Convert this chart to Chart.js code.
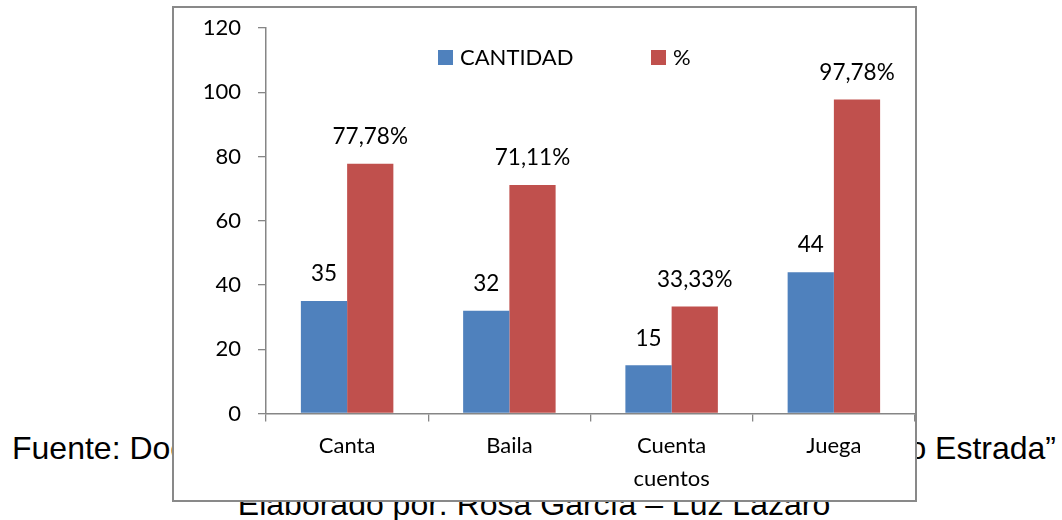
<!DOCTYPE html>
<html>
<head>
<meta charset="utf-8">
<script src="https://cdn.jsdelivr.net/npm/chart.js@4"></script>
<style>
    body { margin: 0; width: 1062px; height: 520px; background: #fff; overflow: hidden; position: relative; }
    .note { position: absolute; font-family: "Liberation Sans", Arial, sans-serif; font-size: 32px; color: #000; white-space: nowrap; line-height: 1; }
    #chartBox { position: absolute; left: 172px; top: 6px; width: 745px; height: 496px; box-sizing: border-box; border: 2px solid #898989; background: #fff; }
    #chartWrap { position: absolute; left: 173px; top: 7px; width: 742px; height: 493px; }
</style>
</head>
<body>
<div class="note" style="left:12px; top:432px;">Fuente: Docentes</div>
<div class="note" style="right:6px; top:432px;">o Estrada”</div>
<div class="note" style="left:0; width:1068px; text-align:center; top:488px;">Elaborado por: Rosa García – Luz Lázaro</div>
<div id="chartBox"></div>
<div id="chartWrap"><canvas id="grafico"></canvas></div>

<script>
// datos
const categorias = ['Canta', 'Baila', ['Cuenta', 'cuentos'], 'Juega'];
const cantidad = [35, 32, 15, 44];
const porcentaje = [77.78, 71.11, 33.33, 97.78];
const ticksY = [0, 20, 40, 60, 80, 100, 120];

const gris = '#868686';
const fuente = 'Lato, "Open Sans", sans-serif';

// etiquetas encima de cada barra
const etiquetasPlugin = {
    id: 'etiquetas',
    afterDatasetsDraw(chart) {
        const ctx = chart.ctx;
        ctx.save();
        ctx.font = '22.5px ' + fuente;
        ctx.fillStyle = '#000';
        ctx.textAlign = 'center';
        ctx.textBaseline = 'middle';
        chart.data.datasets.forEach((ds, i) => {
            chart.getDatasetMeta(i).data.forEach((bar, j) => {
                const v = ds.data[j];
                const txt = i === 1 ? v.toFixed(2).replace('.', ',') + '%' : String(v);
                ctx.fillText(txt, bar.x, bar.y - 27);
            });
        });
        ctx.restore();
    }
};

// leyenda dentro del area del grafico
const leyendaPlugin = {
    id: 'leyenda',
    afterDraw(chart) {
        const ctx = chart.ctx;
        const pos = [265, 478];
        ctx.save();
        ctx.font = '22px ' + fuente;
        ctx.textBaseline = 'middle';
        ctx.textAlign = 'left';
        chart.data.datasets.forEach((ds, i) => {
            ctx.fillStyle = ds.backgroundColor;
            ctx.fillRect(pos[i], 43, 15, 15);
            ctx.fillStyle = '#000';
            ctx.fillText(ds.label, pos[i] + 22, 50.5);
        });
        ctx.restore();
    }
};

// sin relleno extra de las escalas, el area queda fija
function sinRelleno(scale) {
    scale.paddingTop = 0;
    scale.paddingBottom = 0;
    scale.paddingLeft = 0;
    scale.paddingRight = 0;
}

new Chart(document.getElementById('grafico'), {
    type: 'bar',
    data: {
        labels: categorias,
        datasets: [
            { label: 'CANTIDAD', data: cantidad, backgroundColor: '#4F81BD' },
            { label: '%', data: porcentaje, backgroundColor: '#C0504D' }
        ]
    },
    options: {
        responsive: true,
        maintainAspectRatio: false,
        animation: false,
        events: [],
        categoryPercentage: 0.57,
        barPercentage: 1.0,
        layout: { padding: { top: 21, left: 0, right: 0, bottom: 0 } },
        plugins: {
            legend: { display: false },
            tooltip: { enabled: false }
        },
        scales: {
            x: {
                grid: { offset: true, drawOnChartArea: false, color: gris, lineWidth: 1.3, tickLength: 8 },
                border: { color: gris, width: 1.5 },
                ticks: { color: '#000', padding: 8, font: { size: 22, family: fuente, lineHeight: '33px' } },
                afterFit(scale) { sinRelleno(scale); scale.height = 86.5; }
            },
            y: {
                min: 0,
                max: 120,
                afterBuildTicks(scale) { scale.ticks = ticksY.map(v => ({ value: v })); },
                grid: { drawOnChartArea: false, color: gris, lineWidth: 1.3, tickLength: 8 },
                border: { color: gris, width: 1.5 },
                ticks: { color: '#000', padding: 17, font: { size: 22, family: fuente } },
                afterFit(scale) { sinRelleno(scale); scale.width = 93; }
            }
        }
    },
    plugins: [etiquetasPlugin, leyendaPlugin]
});
</script>
</body>
</html>
